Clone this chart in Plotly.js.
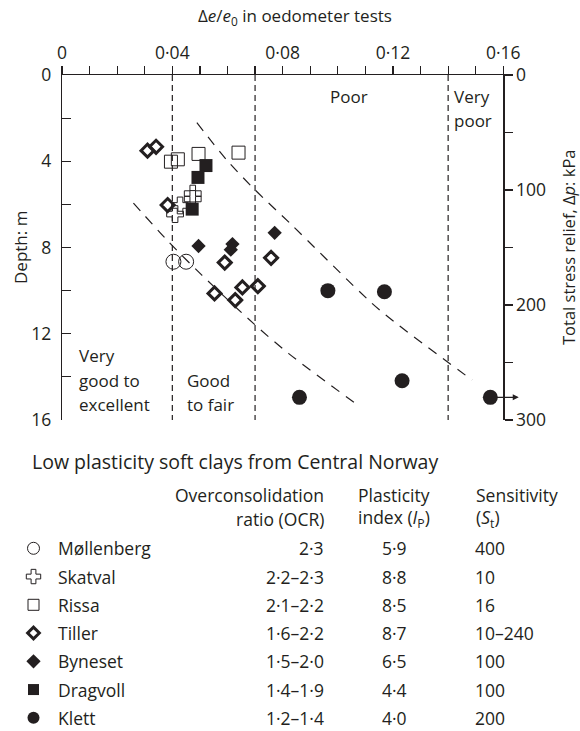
<!DOCTYPE html>
<html><head><meta charset="utf-8">
<script src="https://cdn.plot.ly/plotly-3.0.1.min.js"></script>
<style>html,body{margin:0;padding:0;background:#fff}#chart{width:580px;height:731px}</style>
</head><body><div id="chart"></div>
<script>
// ---------- data ----------
const xTickVals = [0, 0.04, 0.08, 0.12, 0.16];
const xTickText = ['0', '0·04', '0·08', '0·12', '0·16'];
const depthTickVals = [0, 4, 8, 12, 16];
const stressTickVals = [0, 100, 200, 300];

const mollenbergX = [0.0404, 0.0450];
const mollenbergD = [8.66, 8.66];
const skatvalX = [0.0474, 0.0474, 0.0428, 0.0410];
const skatvalD = [5.50, 5.75, 6.05, 6.45];
const rissaX = [0.0395, 0.0420, 0.0495, 0.0640];
const rissaD = [4.02, 3.91, 3.66, 3.60];
const tillerX = [0.0310, 0.0341, 0.0383, 0.0590, 0.0758, 0.0553, 0.0628, 0.0654, 0.0710];
const tillerD = [3.51, 3.33, 6.03, 8.70, 8.48, 10.13, 10.44, 9.85, 9.79];
const bynesetX = [0.0495, 0.0618, 0.0612, 0.0771];
const bynesetD = [7.93, 7.84, 8.10, 7.32];
const dragvollX = [0.0522, 0.0493, 0.0472];
const dragvollD = [4.20, 4.75, 6.22];
const klettX = [0.0964, 0.1169, 0.0861, 0.1233, 0.1553];
const klettD = [10.00, 10.05, 14.95, 14.18, 14.95];

const upperCurveX = [0.0489, 0.0597, 0.0700, 0.0827, 0.1124, 0.1220, 0.1487];
const upperCurveD = [2.21, 3.94, 5.33, 6.88, 10.59, 11.60, 14.15];
const lowerCurveX = [0.0259, 0.0386, 0.0507, 0.0694, 0.0821, 0.1081];
const lowerCurveD = [5.94, 7.73, 9.28, 11.52, 12.91, 15.39];
const qualityBounds = [0.04, 0.07, 0.14];

const sites = ['Møllenberg', 'Skatval', 'Rissa', 'Tiller', 'Byneset', 'Dragvoll', 'Klett'];
const ocr = ['2·3', '2·2–2·3', '2·1–2·2', '1·6–2·2', '1·5–2·0', '1·4–1·9', '1·2–1·4'];
const ip = ['5·9', '8·8', '8·5', '8·7', '6·5', '4·4', '4·0'];
const st = ['400', '10', '16', '10–240', '100', '100', '200'];

// ---------- styling / layout ----------
const W = 580, H = 731;
const INK = '#231f20';
const FONT = 'Open Sans, Noto Sans, sans-serif';
const FS = 17;
const TFS = 17.5;
const PX0 = 62, PX1 = 503.3, PY0 = 75, PY1 = 420;

const styles = {
  'Møllenberg': {symbol: 'circle-open', size: 15, lsize: 12, line: {color: '#444', width: 1}},
  'Skatval': {symbol: 'cross-open', size: 14, lsize: 12, line: {color: '#444', width: 1}},
  'Rissa': {symbol: 'square-open', size: 13, lsize: 11, line: {color: '#444', width: 1}},
  'Tiller': {symbol: 'diamond-open', size: 10, lsize: 9, line: {color: INK, width: 3}},
  'Byneset': {symbol: 'diamond', size: 11, lsize: 11, line: {color: INK, width: 0}},
  'Dragvoll': {symbol: 'square', size: 13, lsize: 11, line: {color: INK, width: 0}},
  'Klett': {symbol: 'circle', size: 15, lsize: 12, line: {color: INK, width: 0}}
};
const siteData = {
  'Møllenberg': [mollenbergX, mollenbergD],
  'Skatval': [skatvalX, skatvalD],
  'Rissa': [rissaX, rissaD],
  'Tiller': [tillerX, tillerD],
  'Byneset': [bynesetX, bynesetD],
  'Dragvoll': [dragvollX, dragvollD],
  'Klett': [klettX, klettD]
};

const traces = [];
// quality boundaries
qualityBounds.forEach(b => {
  traces.push({x: [b, b], y: [0, 16], mode: 'lines', xaxis: 'x', yaxis: 'y',
    line: {color: INK, width: 1.2, dash: '6px,4px'}, hoverinfo: 'skip', showlegend: false});
});
// diagonal curves
[[upperCurveX, upperCurveD], [lowerCurveX, lowerCurveD]].forEach(c => {
  traces.push({x: c[0], y: c[1], mode: 'lines', xaxis: 'x', yaxis: 'y',
    line: {color: INK, width: 1.2, dash: '10px,8px', shape: 'spline', smoothing: 0.8},
    hoverinfo: 'skip', showlegend: false});
});
// data points
const drawOrder = ['Rissa', 'Skatval', 'Dragvoll', 'Møllenberg', 'Tiller', 'Byneset', 'Klett'];
drawOrder.forEach(s => {
  const st_ = styles[s];
  traces.push({x: siteData[s][0], y: siteData[s][1], mode: 'markers', name: s,
    xaxis: 'x', yaxis: 'y', cliponaxis: false,
    marker: {symbol: st_.symbol, size: st_.size, color: INK, line: st_.line},
    showlegend: false});
});
// empty trace to activate right axis
traces.push({x: [null], y: [null], xaxis: 'x', yaxis: 'y2', mode: 'markers', showlegend: false, hoverinfo: 'skip'});

// table symbols (pixel-coordinate helper axes)
const ROW0 = 548.3, ROWSTEP = 28.25, SYMX = 33.5;
sites.forEach((s, i) => {
  const st_ = styles[s];
  traces.push({x: [SYMX], y: [ROW0 + i * ROWSTEP], mode: 'markers', xaxis: 'x3', yaxis: 'y3',
    marker: {symbol: st_.symbol, size: st_.lsize, color: INK, line: st_.line},
    hoverinfo: 'skip', showlegend: false, cliponaxis: false});
});

const ann = [];
function txt(text, x, y, opts, size) {
  ann.push(Object.assign({text: text, x: x, y: y, showarrow: false,
    font: {family: FONT, size: size || FS, color: INK}, xanchor: 'left', yanchor: 'middle'}, opts || {}));
}
// axis titles
txt('Δ<i>e</i>/<i>e</i><sub>0</sub> in oedometer tests', 196 / W, 1 - 16 / H, {xref: 'paper', yref: 'paper', xanchor: 'left'}, 17);
txt('Depth: m', 20 / W, 1 - 248 / H, {xref: 'paper', yref: 'paper', xanchor: 'center', textangle: -90});
txt('Total stress relief, Δ<i>p</i>: kPa', 568 / W, 1 - 248 / H, {xref: 'paper', yref: 'paper', xanchor: 'center', textangle: -90}, 16.5);
// zone labels
txt('Poor', 0.1041, 1.0, {xref: 'x', yref: 'y', xanchor: 'center'});
txt('Very', 0.1415, 1.0, {xref: 'x', yref: 'y'});
txt('poor', 0.1415, 2.09, {xref: 'x', yref: 'y'});
txt('Very', 0.0053, 12.99, {xref: 'x', yref: 'y'});
txt('good to', 0.0053, 14.15, {xref: 'x', yref: 'y'});
txt('excellent', 0.0053, 15.26, {xref: 'x', yref: 'y'});
txt('Good', 0.0446, 14.15, {xref: 'x', yref: 'y'});
txt('to fair', 0.0446, 15.26, {xref: 'x', yref: 'y'});
// arrow from last Klett point
const kl = klettX.length - 1;
ann.push({x: klettX[kl] + 0.0103, y: klettD[kl], ax: klettX[kl], ay: klettD[kl], axref: 'x', ayref: 'y',
  xref: 'x', yref: 'y', text: '', showarrow: true, arrowhead: 2, arrowsize: 1, arrowwidth: 1.2, arrowcolor: INK});

// table
const T = {xref: 'x3', yref: 'y3'};
txt('Low plasticity soft clays from Central Norway', 29.5, 461.7, T, 19.5);
txt('Overconsolidation', 326, 495, Object.assign({xanchor: 'right'}, T), TFS);
txt('ratio (OCR)', 326, 518.5, Object.assign({xanchor: 'right'}, T), TFS);
txt('Plasticity', 356, 495, T, TFS);
txt('index (<i>I</i><sub>P</sub>)', 356, 518.5, T, TFS);
txt('Sensitivity', 474, 495, T, TFS);
txt('(<i>S</i><sub>t</sub>)', 474, 518.5, T, TFS);
sites.forEach((s, i) => {
  const y = ROW0 + i * ROWSTEP;
  txt(s, 56, y, T, TFS);
  txt(ocr[i], 325.5, y, Object.assign({xanchor: 'right'}, T), TFS);
  txt(ip[i], 380, y, T, TFS);
  txt(st[i], 473, y, T, TFS);
});

const axCommon = {showgrid: false, zeroline: false, showline: true, linecolor: INK, linewidth: 1.2,
  tickcolor: INK, tickwidth: 1.2, tickfont: {family: FONT, size: 17.5, color: INK}, fixedrange: true};

const layout = {
  width: W, height: H,
  margin: {l: 0, r: 0, t: 0, b: 0},
  paper_bgcolor: '#fff', plot_bgcolor: 'rgba(0,0,0,0)',
  showlegend: false,
  font: {family: FONT, size: FS, color: INK},
  xaxis: Object.assign({}, axCommon, {domain: [PX0 / W, PX1 / W], range: [0, 0.16], side: 'top', anchor: 'y',
    tickmode: 'array', tickvals: xTickVals, ticktext: xTickText, ticks: 'outside', ticklen: 8,
    minor: {dtick: 0.01, tick0: 0, ticks: 'outside', ticklen: 8, tickwidth: 1.2, tickcolor: INK, showgrid: false}}),
  yaxis: Object.assign({}, axCommon, {domain: [1 - PY1 / H, 1 - PY0 / H], range: [16, 0], anchor: 'x',
    tickmode: 'array', tickvals: depthTickVals, ticks: 'inside', ticklen: 9, ticklabelstandoff: 6,
    minor: {dtick: 2, tick0: 0, ticks: 'inside', ticklen: 9, tickwidth: 1.2, tickcolor: INK, showgrid: false}}),
  yaxis2: Object.assign({}, axCommon, {overlaying: 'y', side: 'right', anchor: 'x', range: [300, 0],
    tickmode: 'array', tickvals: stressTickVals, ticks: 'outside', ticklen: 8,
    minor: {dtick: 50, tick0: 0, ticks: 'outside', ticklen: 8, tickwidth: 1.2, tickcolor: INK, showgrid: false}}),
  xaxis3: {domain: [0, 1], range: [0, W], anchor: 'y3', visible: false, fixedrange: true},
  yaxis3: {domain: [0, (H - 440) / H], range: [H, 440], anchor: 'x3', visible: false, fixedrange: true},
  annotations: ann
};

Plotly.newPlot('chart', traces, layout, {staticPlot: true, displayModeBar: false});
</script></body></html>
